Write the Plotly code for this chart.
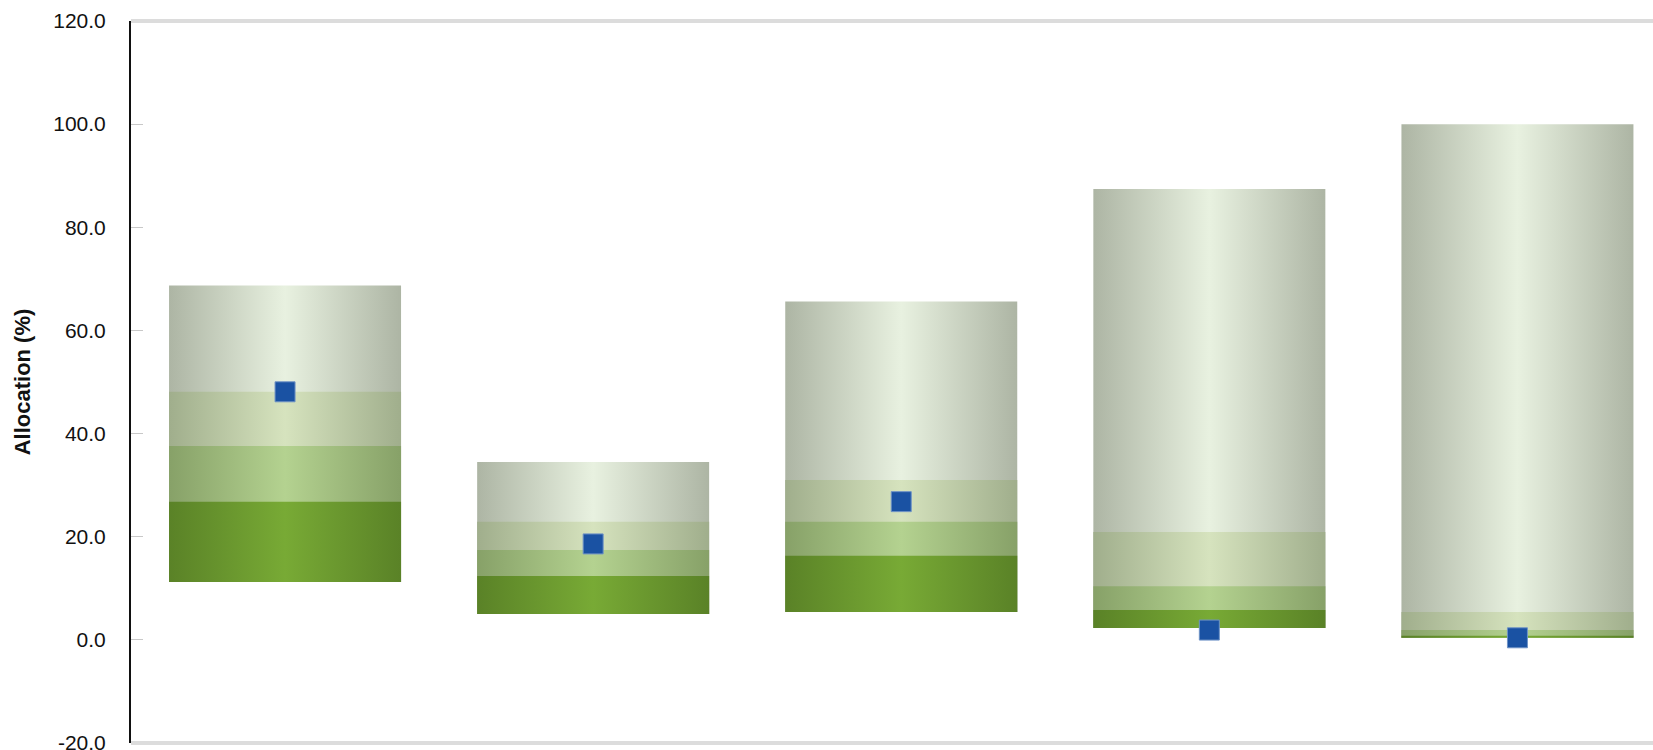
import plotly.graph_objects as go

# ---- data ----
categories = ["Category 1", "Category 2", "Category 3", "Category 4", "Category 5"]
low_values = [11.2, 5.0, 5.4, 2.3, 0.4]          # bottom of range
q1_values = [26.8, 12.4, 16.3, 5.8, 0.8]         # top of 1st band
median_values = [37.6, 17.4, 22.9, 10.4, 1.9]    # top of 2nd band
q3_values = [48.1, 22.9, 31.0, 20.9, 5.4]        # top of 3rd band
high_values = [68.7, 34.5, 65.6, 87.4, 100.0]    # top of range
current_values = [48.1, 18.6, 26.8, 1.9, 0.4]    # blue markers
y_range = [-20, 120]
y_tick_values = [-20, 0, 20, 40, 60, 80, 100, 120]
y_tick_labels = ["-20.0", "0.0", "20.0", "40.0", "60.0", "80.0", "100.0", "120.0"]

# ---- styles ----
band_colors = [  # (edge, center) per band, bottom to top
    ("#5a8227", "#78aa35"),
    ("#87a168", "#b4d290"),
    ("#a0ae8c", "#d6e3be"),
    ("#adb5a4", "#e8f1e0"),
]
bar_width = 0.753

band_tops = [q1_values, median_values, q3_values, high_values]

fig = go.Figure()
# draw from the top band downwards; each band is filled from the bar's low value
# to its own top so that the lower (darker) bands overlay without seams
for b in reversed(range(4)):
    hi_list = band_tops[b]
    edge, center = band_colors[b]
    for i, cat in enumerate(categories):
        x0, x1 = i - bar_width / 2, i + bar_width / 2
        lo, hi = low_values[i], hi_list[i]
        fig.add_trace(go.Scatter(
            x=[x0, x1, x1, x0, x0],
            y=[lo, lo, hi, hi, lo],
            mode="lines",
            fill="toself",
            line=dict(width=0),
            fillgradient=dict(
                type="horizontal",
                start=x0,
                stop=x1,
                colorscale=[[0, edge], [0.5, center], [1, edge]],
            ),
            hoverinfo="skip",
            showlegend=False,
        ))

fig.add_trace(go.Scatter(
    x=list(range(len(categories))),
    y=current_values,
    mode="markers",
    marker=dict(symbol="square", size=20, color="#1a52a3",
                line=dict(width=1, color="#6f93c6")),
    text=categories,
    showlegend=False,
))

# light frame lines at the top and bottom of the plotting area
for yp in (0, 1):
    fig.add_shape(type="line", xref="paper", yref="paper", x0=0, x1=1, y0=yp, y1=yp,
                  line=dict(color="#dcdcdc", width=4), layer="above")

fig.update_layout(
    width=1653,
    height=750,
    margin=dict(l=131, r=0, t=21, b=7),
    paper_bgcolor="white",
    plot_bgcolor="white",
    xaxis=dict(
        range=[-0.5, 4.44],
        showgrid=False,
        zeroline=False,
        showticklabels=False,
        ticks="",
        showline=False,
        automargin=False,
    ),
    yaxis=dict(
        range=y_range,
        tickvals=y_tick_values,
        ticktext=y_tick_labels,
        showgrid=False,
        zeroline=False,
        automargin=False,
        ticks="inside",
        ticklen=12,
        tickwidth=1,
        tickcolor="#c8c8c8",
        showline=True,
        linecolor="#111111",
        linewidth=2,
        ticklabelstandoff=19,
        ticklabeloverflow="allow",
        tickfont=dict(family="Liberation Sans Narrow, Arial Narrow, Liberation Sans, Arial, sans-serif",
                      size=21, color="#111111"),
        title=dict(text="<b>Allocation (%)</b>", standoff=17,
                   font=dict(family="Liberation Sans, Arial, sans-serif", size=22, color="#111111")),
    ),
)

fig.write_html("out.html")
